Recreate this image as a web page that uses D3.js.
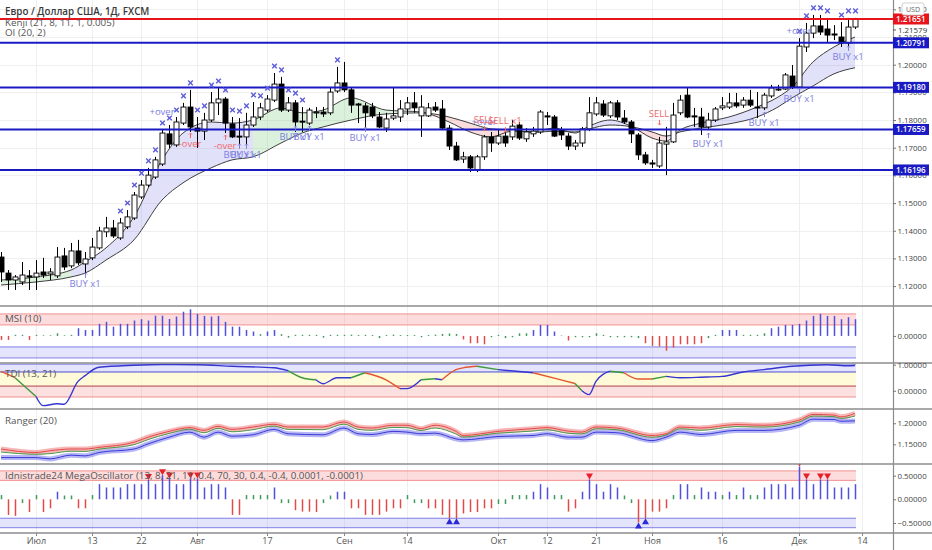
<!DOCTYPE html>
<html>
<head>
<meta charset="utf-8">
<script src="https://cdn.jsdelivr.net/npm/d3@7"></script>
<style>
  body { margin: 0; background: #fff; }
  svg { display: block; font-family: 'Open Sans', 'Noto Sans', sans-serif; }
</style>
</head>
<body>
<svg id="chart" width="932" height="550"></svg>
<script>
// EUR/USD daily candles, 24 Jun - 11 Dec 2020: [open, high, low, close]
var ohlc = [
  [1.1305,1.1323,1.1215,1.1251],[1.1247,1.1258,1.1186,1.1222],[1.1222,1.1240,1.1186,1.1233],[1.1215,1.1287,1.1204,1.1240],
  [1.1237,1.1258,1.1186,1.1233],[1.1233,1.1294,1.1186,1.1247],[1.1251,1.1302,1.1229,1.1240],[1.1244,1.1265,1.1222,1.1251],
  [1.1237,1.1341,1.1229,1.1305],[1.1309,1.1338,1.1258,1.1269],[1.1273,1.1356,1.1265,1.1327],[1.1327,1.1367,1.1276,1.1284],
  [1.1280,1.1323,1.1247,1.1298],[1.1302,1.1374,1.1294,1.1341],[1.1338,1.1414,1.1331,1.1399],[1.1396,1.1450,1.1377,1.1410],
  [1.1410,1.1439,1.1374,1.1381],[1.1374,1.1446,1.1367,1.1428],[1.1414,1.1475,1.1406,1.1450],[1.1446,1.1540,1.1439,1.1529],
  [1.1522,1.1583,1.1515,1.1565],[1.1565,1.1627,1.1558,1.1601],[1.1594,1.1667,1.1587,1.1656],[1.1641,1.1764,1.1634,1.1753],
  [1.1750,1.1782,1.1699,1.1713],[1.1710,1.1811,1.1703,1.1793],[1.1789,1.1862,1.1782,1.1847],[1.1847,1.1909,1.1757,1.1775],
  [1.1771,1.1811,1.1699,1.1760],[1.1760,1.1826,1.1728,1.1800],[1.1800,1.1901,1.1793,1.1862],[1.1862,1.1916,1.1818,1.1876],
  [1.1876,1.1883,1.1753,1.1789],[1.1786,1.1811,1.1735,1.1739],[1.1742,1.1807,1.1703,1.1739],[1.1739,1.1826,1.1710,1.1782],
  [1.1782,1.1865,1.1775,1.1811],[1.1811,1.1862,1.1800,1.1844],[1.1836,1.1890,1.1829,1.1876],[1.1872,1.1970,1.1865,1.1930],
  [1.1930,1.1956,1.1829,1.1836],[1.1836,1.1883,1.1829,1.1862],[1.1862,1.1872,1.1757,1.1793],[1.1796,1.1847,1.1757,1.1793],
  [1.1789,1.1844,1.1782,1.1836],[1.1826,1.1847,1.1807,1.1829],[1.1829,1.1847,1.1811,1.1822],[1.1826,1.1916,1.1818,1.1901],
  [1.1905,1.1992,1.1898,1.1934],[1.1934,1.2010,1.1901,1.1909],[1.1909,1.1919,1.1826,1.1854],[1.1858,1.1862,1.1789,1.1854],
  [1.1851,1.1862,1.1775,1.1826],[1.1847,1.1862,1.1807,1.1815],[1.1811,1.1829,1.1771,1.1775],[1.1771,1.1826,1.1757,1.1804],
  [1.1807,1.1916,1.1800,1.1815],[1.1811,1.1872,1.1793,1.1840],[1.1840,1.1883,1.1818,1.1862],[1.1862,1.1901,1.1826,1.1844],
  [1.1815,1.1890,1.1739,1.1847],[1.1815,1.1862,1.1811,1.1844],[1.1847,1.1865,1.1829,1.1836],[1.1840,1.1872,1.1764,1.1771],
  [1.1771,1.1782,1.1692,1.1706],[1.1706,1.1721,1.1652,1.1656],[1.1659,1.1685,1.1645,1.1667],[1.1667,1.1674,1.1612,1.1627],
  [1.1620,1.1674,1.1612,1.1667],[1.1667,1.1746,1.1656,1.1739],[1.1739,1.1757,1.1685,1.1717],[1.1717,1.1764,1.1710,1.1742],
  [1.1742,1.1757,1.1703,1.1717],[1.1739,1.1800,1.1728,1.1778],[1.1782,1.1793,1.1728,1.1735],[1.1732,1.1771,1.1721,1.1757],
  [1.1750,1.1775,1.1739,1.1760],[1.1757,1.1836,1.1750,1.1829],[1.1815,1.1829,1.1782,1.1811],[1.1811,1.1818,1.1739,1.1742],
  [1.1764,1.1775,1.1728,1.1746],[1.1742,1.1753,1.1692,1.1706],[1.1706,1.1728,1.1692,1.1717],[1.1717,1.1775,1.1703,1.1768],
  [1.1768,1.1883,1.1760,1.1826],[1.1822,1.1883,1.1815,1.1862],[1.1858,1.1872,1.1811,1.1818],[1.1815,1.1869,1.1807,1.1862],
  [1.1862,1.1872,1.1800,1.1811],[1.1807,1.1836,1.1786,1.1793],[1.1793,1.1800,1.1717,1.1750],[1.1746,1.1753,1.1656,1.1674],
  [1.1674,1.1685,1.1638,1.1645],[1.1645,1.1656,1.1627,1.1641],[1.1634,1.1739,1.1627,1.1717],[1.1713,1.1775,1.1601,1.1721],
  [1.1721,1.1862,1.1717,1.1818],[1.1826,1.1890,1.1818,1.1872],[1.1890,1.1916,1.1807,1.1811],[1.1815,1.1844,1.1775,1.1811],
  [1.1811,1.1844,1.1746,1.1775],[1.1775,1.1826,1.1768,1.1800],[1.1800,1.1847,1.1793,1.1840],[1.1844,1.1883,1.1836,1.1851],
  [1.1847,1.1898,1.1840,1.1862],[1.1862,1.1898,1.1844,1.1851],[1.1854,1.1883,1.1844,1.1872],[1.1872,1.1909,1.1847,1.1854],
  [1.1847,1.1901,1.1807,1.1844],[1.1844,1.1898,1.1836,1.1890],[1.1887,1.1927,1.1880,1.1916],[1.1909,1.1927,1.1905,1.1912],
  [1.1912,1.1970,1.1909,1.1963],[1.1959,1.1999,1.1912,1.1919],[1.1919,1.2096,1.1912,1.2067],[1.2064,1.2151,1.2046,1.2114],
  [1.2114,1.2180,1.2096,1.2140],[1.2140,1.2180,1.2107,1.2118],[1.2129,1.2169,1.2078,1.2107],[1.2111,1.2143,1.2089,1.2107],
  [1.2100,1.2154,1.2064,1.2078],[1.2078,1.2169,1.2060,1.2136],[1.2136,1.2169,1.2129,1.2165]
];

var tickDates = ['2020-07-01','2020-07-13','2020-07-22','2020-08-03','2020-08-17','2020-09-01','2020-09-14',
  '2020-10-01','2020-10-12','2020-10-21','2020-11-02','2020-11-16','2020-12-01','2020-12-14'];
var tickLabels = ['Июл','13','22','Авг','17','Сен','14','Окт','12','21','Ноя','16','Дек','14'];

var priceTicks = [1.12,1.13,1.14,1.15,1.16,1.17,1.18,1.19,1.20,1.21,1.22];
var levelsBlue = [1.20791, 1.19180, 1.17659, 1.16196];
var levelsRed = [1.21651];
var levelPlain = 1.21579;

// Kenji ribbon, read at selected candles
var kIdx  = [0,5,10,12,15,19,23,26,30,33,36,40,43,46,50,55,60,64,67,70,73,76,79,82,84,87,90,93,95,97,100,104,108,111,113,116,119,122];
var kFast = [1.1222,1.1233,1.1258,1.1287,1.1338,1.1450,1.1656,1.1753,1.1793,1.1789,1.1800,1.1844,1.1826,1.1836,1.1880,1.1836,1.1829,1.1793,1.1757,1.1739,
  1.1760,1.1758,1.1771,1.1753,1.1778,1.1800,1.1778,1.1735,1.1724,1.1764,1.1789,1.1811,1.1847,1.1883,1.1919,1.2010,1.2064,1.2100];
var kSlow = [1.1204,1.1215,1.1233,1.1247,1.1294,1.1367,1.1511,1.1573,1.1627,1.1656,1.1667,1.1717,1.1753,1.1775,1.1800,1.1822,1.1826,1.1811,1.1789,1.1768,
  1.1764,1.1755,1.1760,1.1757,1.1768,1.1782,1.1776,1.1757,1.1742,1.1757,1.1771,1.1786,1.1811,1.1847,1.1880,1.1923,1.1967,1.1989];
var kFill = ['g','g','b','b','b','b','b','b','b','b','g','g','g','g','g','g','r','r','r','r',
  'g','g','g','b','b','b','r','r','b','b','b','b','b','b','b','b','b','b'];

var xMarkIdx = [17,18,19,20,21,22,23,24,25,26,27,28,29,30,31,32,33,34,35,36,37,38,39,40,41,42,43,48,
  114,115,116,117,118,120,121,122];

var notes = [
  { t: 'BUY x1', i: 12, p: 1.1208, c: 'buy' },
  { t: '+over', i: 23, p: 1.1829, c: 'up' },
  { t: '-over', i: 27, p: 1.1713, c: 'dn' },
  { t: '-over', i: 32, p: 1.1706, c: 'dn' },
  { t: 'BUY x1', i: 34, p: 1.1674, c: 'buy' },
  { t: 'BUY x1', i: 35, p: 1.1674, c: 'buy' },
  { t: 'BUY x1', i: 42, p: 1.1739, c: 'buy' },
  { t: 'BUY x1', i: 44, p: 1.1739, c: 'buy' },
  { t: 'BUY x1', i: 52, p: 1.1735, c: 'buy' },
  { t: '+over', i: 69, p: 1.1793, c: 'up' },
  { t: 'SELL', i: 69, p: 1.1800, c: 'sell' },
  { t: 'SELL x1', i: 72, p: 1.1796, c: 'sell' },
  { t: 'SELL', i: 94, p: 1.1822, c: 'sell' },
  { t: 'BUY x1', i: 101, p: 1.1713, c: 'buy' },
  { t: 'BUY x1', i: 109, p: 1.1789, c: 'buy' },
  { t: 'BUY x1', i: 114, p: 1.1876, c: 'buy' },
  { t: '+over', i: 114, p: 1.2122, c: 'up' },
  { t: 'BUY x1', i: 121, p: 1.2028, c: 'buy' }
];

var msiVals = [
  -0.18,-0.18,0.05,0.05,-0.18,0.05,0.03,0.03,0.12,0.03,
  0.05,0.35,0.27,0.27,0.55,0.64,0.42,0.55,0.55,0.70,
  0.76,0.70,0.92,0.92,0.77,0.88,1.10,1.21,1.00,0.91,
  0.88,0.91,0.64,0.42,0.42,0.27,0.20,0.08,0.20,0.27,
  0.08,-0.08,0.05,0.05,0.05,0.05,-0.08,0.05,0.05,0.05,
  0.06,0.04,0.05,0.04,-0.10,0.04,0.06,0.04,0.04,0.04,
  -0.06,0.04,0.06,0.09,0.11,0.09,-0.16,-0.33,-0.33,-0.38,
  -0.06,0.05,-0.10,-0.06,0.12,0.12,0.27,0.50,0.50,0.20,
  0.02,-0.21,-0.06,-0.06,-0.06,0.12,0.05,-0.06,-0.06,-0.06,
  -0.06,-0.10,-0.33,-0.45,-0.48,-0.67,-0.53,-0.38,-0.38,-0.38,
  -0.33,-0.10,0.05,0.27,0.27,0.27,0.05,0.05,0.05,0.12,
  0.35,0.42,0.50,0.50,0.55,0.70,0.91,1.00,0.91,0.91,
  0.76,0.85,0.76
];
var msiBands = [1, 0.5, -0.5, -1];

var tdiIdx  = [0,2,5,6,8,9,11,12,14,19,23,28,33,39,41,43,45,46,48,50,52,55,57,58,60,62,63,65,66,68,71,76,80,82,83,84,85,87,89,91,93,95,97,100,103,106,109,113,118,121,122];
var tdiVals = [0.74,0.50,-0.22,-0.57,-0.50,-0.52,0.36,0.58,0.90,0.98,1.01,1.00,0.94,0.88,0.77,0.50,0.42,0.27,0.50,0.50,0.69,0.42,0.08,0.08,0.42,0.46,0.42,0.81,0.88,0.94,
  0.81,0.69,0.42,0.28,0.00,-0.15,0.36,0.75,0.69,0.45,0.45,0.55,0.50,0.52,0.55,0.72,0.81,0.94,1.00,0.96,0.97];
var tdiCol  = ['r','g','b','b','b','b','b','b','b','b','b','b','b','b','g','g','b','b','b','g','r','r','b','b','g','b','r','r','r','g',
  'b','r','r','g','b','b','b','g','r','r','g','b','b','b','b','b','b','b','b','b','b'];
var tdiBands = [1.02, 0.72, 0.18, -0.24];

var rngIdx   = [0,5,7,10,12,14,19,21,24,27,29,31,33,36,39,41,46,49,51,53,56,58,60,62,65,66,71,76,78,81,83,85,88,93,95,97,100,105,109,114,116,119,120,122];
var rngRed   = [1.1389,1.1307,1.1348,1.1389,1.1389,1.1428,1.1548,1.1669,1.1807,1.1896,1.1831,1.1928,1.1855,1.1911,1.1976,1.1911,1.1911,1.2031,1.1911,1.1886,
  1.1952,1.1952,1.1872,1.1952,1.1807,1.1710,1.1807,1.1872,1.1896,1.1814,1.1790,1.1911,1.1886,1.1710,1.1751,1.1911,1.1886,1.1969,1.1952,1.2072,1.2210,1.2193,1.2152,1.2234];
var rngGreen = [1.1318,1.1265,1.1280,1.1338,1.1332,1.1386,1.1492,1.1613,1.1759,1.1859,1.1774,1.1880,1.1798,1.1847,1.1934,1.1855,1.1847,1.1980,1.1855,1.1833,
  1.1901,1.1895,1.1830,1.1887,1.1745,1.1674,1.1765,1.1815,1.1845,1.1763,1.1748,1.1869,1.1847,1.1668,1.1722,1.1869,1.1833,1.1921,1.1910,1.2030,1.2170,1.2157,1.2116,1.2172];
var rngBlue  = [1.1186,1.1186,1.1155,1.1244,1.1227,1.1307,1.1389,1.1510,1.1669,1.1790,1.1669,1.1790,1.1693,1.1727,1.1855,1.1751,1.1727,1.1886,1.1751,1.1734,
  1.1807,1.1790,1.1751,1.1766,1.1630,1.1606,1.1686,1.1710,1.1751,1.1669,1.1669,1.1790,1.1775,1.1589,1.1669,1.1790,1.1734,1.1831,1.1831,1.1952,1.2097,1.2089,1.2048,1.2056];

var megaVals = [
  0.09,-0.33,-0.35,-0.08,-0.27,0.09,-0.27,-0.19,0.16,0.08,
  0.08,-0.19,-0.19,0.09,0.32,0.25,0.25,0.25,0.32,0.32,
  0.32,0.41,0.32,0.51,0.44,0.32,0.32,0.44,0.44,0.25,
  0.32,0.32,0.25,-0.33,-0.33,0.09,0.09,0.09,0.09,0.25,
  -0.08,-0.08,-0.23,-0.26,-0.26,-0.27,-0.08,0.08,0.16,0.16,
  -0.19,-0.19,-0.33,-0.33,-0.33,-0.26,-0.19,-0.19,0.09,-0.08,
  -0.08,-0.19,-0.19,-0.33,-0.40,-0.40,-0.30,-0.27,-0.27,-0.19,
  -0.19,-0.10,-0.10,0.09,0.09,0.09,0.16,0.32,0.25,0.09,
  0.09,-0.26,-0.19,0.16,0.42,0.32,0.16,0.32,0.25,0.08,
  -0.08,-0.49,-0.40,-0.26,-0.26,-0.19,0.09,0.32,0.32,0.09,
  0.25,0.16,0.16,0.09,0.16,0.09,0.25,0.09,0.09,0.25,
  0.32,0.32,0.32,0.25,0.69,0.42,0.32,0.42,0.42,0.25,
  0.25,0.25,0.32
];
var megaDown = [21,23,24,27,28,84,114,115,117,118];
var megaUp = [64,65,91,92];
var megaBands = [0.6, 0.4, -0.4, -0.6];

// ---------------------------------------------------------------
var svg = d3.select('#chart'),
  width = 932,
  axisX = 893,
  bottomY = 533,
  seps = [306, 363, 409, 464, 533],
  font = "'Open Sans', 'Noto Sans', sans-serif";

var days = d3.timeDay.range(new Date(2020, 5, 24), new Date(2020, 11, 19))
  .filter((d) => d.getDay() !== 0 && d.getDay() !== 6);
var dayKey = d3.timeFormat('%Y-%m-%d');
var dayIndex = new Map(days.map((d, i) => [dayKey(d), i]));
var tickIdx = tickDates.map((d) => dayIndex.get(d));

var x = d3.scaleLinear().domain([0, 123]).range([1, 862]),
  yMain = d3.scaleLinear().domain([1.11281, 1.22337]).range([306, 0]),
  yMsi = d3.scaleLinear().domain([-1.23, 1.36]).range([363, 306]),
  yTdi = d3.scaleLinear().domain([-0.70, 1.065]).range([409, 363]),
  yRng = d3.scaleLinear().domain([1.1034, 1.2338]).range([464, 409]),
  yMega = d3.scaleLinear().domain([-0.712, 0.746]).range([533, 464]);

var lastX = x(ohlc.length - 1);

// clip paths for each pane
var defs = svg.append('defs');
[['clipMain', 0, 306], ['clipMsi', 306, 363], ['clipTdi', 363, 409], ['clipRng', 409, 464], ['clipMega', 464, 533]]
  .forEach(function (c) {
    defs.append('clipPath').attr('id', c[0])
      .append('rect').attr('x', 0).attr('y', c[1]).attr('width', axisX).attr('height', c[2] - c[1]);
  });

// grid
var grid = svg.append('g');
grid.selectAll('line.v').data(tickIdx).join('line')
  .attr('x1', (d) => Math.round(x(d)) + 0.5).attr('x2', (d) => Math.round(x(d)) + 0.5)
  .attr('y1', 0).attr('y2', bottomY)
  .attr('stroke', '#efefef');
grid.selectAll('line.h').data(priceTicks).join('line')
  .attr('x1', 0).attr('x2', axisX)
  .attr('y1', (d) => Math.round(yMain(d)) + 0.5).attr('y2', (d) => Math.round(yMain(d)) + 0.5)
  .attr('stroke', '#efefef');

// split indicator points into runs of the same state
function runs(states) {
  var out = [], cur = null;
  states.forEach(function (s, k) {
    if (!cur || s !== cur.s) {
      if (cur) cur.k.push(k);
      cur = { s: s, k: [k] };
      out.push(cur);
    } else {
      cur.k.push(k);
    }
  });
  return out;
}

// ---------------- main pane
var gMain = svg.append('g').attr('clip-path', 'url(#clipMain)');

var ribbonFill = { g: 'rgba(110,200,110,0.25)', b: 'rgba(120,120,230,0.22)', r: 'rgba(235,120,120,0.25)' };
var ribbonArea = d3.area()
  .x((k) => x(kIdx[k]))
  .y0((k) => yMain(kSlow[k]))
  .y1((k) => yMain(kFast[k]))
  .curve(d3.curveMonotoneX);
gMain.selectAll('path.rib').data(runs(kFill)).join('path')
  .attr('d', (r) => ribbonArea(r.k))
  .attr('fill', (r) => ribbonFill[r.s]);

[kFast, kSlow].forEach(function (series) {
  gMain.append('path')
    .attr('d', d3.line().x((d, k) => x(kIdx[k])).y((d) => yMain(d)).curve(d3.curveMonotoneX)(series))
    .attr('fill', 'none').attr('stroke', '#3f3f3f').attr('stroke-width', 1);
});

var candle = gMain.selectAll('g.candle').data(ohlc).join('g');
candle.append('line')
  .attr('x1', (d, i) => Math.round(x(i)) + 0.5).attr('x2', (d, i) => Math.round(x(i)) + 0.5)
  .attr('y1', (d) => yMain(d[1])).attr('y2', (d) => yMain(d[2]))
  .attr('stroke', '#000');
candle.append('rect')
  .attr('x', (d, i) => Math.round(x(i)) - 2)
  .attr('width', 5)
  .attr('y', (d) => yMain(Math.max(d[0], d[3])))
  .attr('height', (d) => Math.max(1, Math.abs(yMain(d[0]) - yMain(d[3]))))
  .attr('fill', (d) => (d[3] >= d[0] ? '#fff' : '#000'))
  .attr('stroke', '#000').attr('stroke-width', 0.9);

// horizontal levels
gMain.selectAll('line.lvb').data(levelsBlue).join('line')
  .attr('x1', 0).attr('x2', axisX)
  .attr('y1', (d) => yMain(d)).attr('y2', (d) => yMain(d))
  .attr('stroke', '#1a1ac4').attr('stroke-width', 2);
gMain.selectAll('line.lvr').data(levelsRed).join('line')
  .attr('x1', 0).attr('x2', axisX)
  .attr('y1', (d) => yMain(d)).attr('y2', (d) => yMain(d))
  .attr('stroke', '#e8141c').attr('stroke-width', 2);

// x marks over highs
gMain.selectAll('path.xm').data(xMarkIdx).join('path')
  .attr('transform', (i) => 'translate(' + (Math.round(x(i)) + 0.5) + ',' + (yMain(ohlc[i][1]) - 7) + ')')
  .attr('d', 'M-2.3,-2.3L2.3,2.3M-2.3,2.3L2.3,-2.3')
  .attr('stroke', '#5c5cdc').attr('stroke-width', 1.4);

// signal notes
var noteColor = { buy: '#7e7ee0', up: '#7e7ee0', dn: '#f06a6a', sell: '#f06a6a' };
var noteG = gMain.selectAll('g.note').data(notes).join('g')
  .attr('transform', (d) => 'translate(' + x(d.i) + ',' + yMain(d.p) + ')');
noteG.append('text')
  .attr('text-anchor', 'middle').attr('dy', '0.35em')
  .attr('font-size', 9.5).attr('fill', (d) => noteColor[d.c])
  .text((d) => d.t);
noteG.filter((d) => d.c === 'buy' || d.c === 'dn').append('path')
  .attr('d', 'M0.5,-11V-6M-1,-9.5L0.5,-11L2,-9.5')
  .attr('fill', 'none').attr('stroke', (d) => noteColor[d.c]);
noteG.filter((d) => d.c === 'sell').append('path')
  .attr('d', 'M0.5,6V11M-1,9.5L0.5,11L2,9.5')
  .attr('fill', 'none').attr('stroke', (d) => noteColor[d.c]);

// ---------------- sub-pane helpers
function bands(g, scale, lv, fills, strokes) {
  g.append('rect').attr('x', 0).attr('width', lastX + 1)
    .attr('y', scale(lv[0])).attr('height', scale(lv[1]) - scale(lv[0])).attr('fill', fills[0]);
  g.append('rect').attr('x', 0).attr('width', lastX + 1)
    .attr('y', scale(lv[2])).attr('height', scale(lv[3]) - scale(lv[2])).attr('fill', fills[1]);
  g.selectAll('line.band').data(lv).join('line')
    .attr('x1', 0).attr('x2', lastX + 1)
    .attr('y1', (d) => scale(d)).attr('y2', (d) => scale(d))
    .attr('stroke', (d, k) => strokes[k]).attr('stroke-width', 1);
}
function barColor(v) {
  return v > 0.13 ? '#4f4fe0' : v < -0.13 ? '#e54848' : '#3f9b5a';
}

// MSI
var gMsi = svg.append('g').attr('clip-path', 'url(#clipMsi)');
bands(gMsi, yMsi, msiBands, ['rgba(245,140,140,0.3)', 'rgba(120,120,240,0.2)'], ['#f29090', '#f29090', '#8080e6', '#8080e6']);
gMsi.selectAll('line.bar').data(msiVals).join('line')
  .attr('x1', (d, i) => Math.round(x(i)) + 0.5).attr('x2', (d, i) => Math.round(x(i)) + 0.5)
  .attr('y1', yMsi(0)).attr('y2', (d) => yMsi(d))
  .attr('stroke', barColor).attr('stroke-width', 1.5);

// TDI
var gTdi = svg.append('g').attr('clip-path', 'url(#clipTdi)');
gTdi.append('rect').attr('x', 0).attr('width', lastX + 1)
  .attr('y', yTdi(tdiBands[0])).attr('height', yTdi(tdiBands[1]) - yTdi(tdiBands[0])).attr('fill', 'rgba(120,120,240,0.2)');
gTdi.append('rect').attr('x', 0).attr('width', lastX + 1)
  .attr('y', yTdi(tdiBands[1])).attr('height', yTdi(tdiBands[2]) - yTdi(tdiBands[1])).attr('fill', 'rgba(255,248,190,0.6)');
gTdi.append('rect').attr('x', 0).attr('width', lastX + 1)
  .attr('y', yTdi(tdiBands[2])).attr('height', yTdi(tdiBands[3]) - yTdi(tdiBands[2])).attr('fill', 'rgba(245,150,150,0.3)');
gTdi.selectAll('line.band').data(tdiBands).join('line')
  .attr('x1', 0).attr('x2', lastX + 1)
  .attr('y1', (d) => yTdi(d)).attr('y2', (d) => yTdi(d))
  .attr('stroke', (d, k) => ['#8080e6', '#4c4cd0', '#b04050', '#f29090'][k]);
var tdiColor = { b: '#3535d0', g: '#3c9a3c', r: '#e4572e' };
var tdiLine = d3.line().x((k) => x(tdiIdx[k])).y((k) => yTdi(tdiVals[k])).curve(d3.curveMonotoneX);
gTdi.selectAll('path.tdi').data(runs(tdiCol)).join('path')
  .attr('d', (r) => tdiLine(r.k))
  .attr('fill', 'none').attr('stroke', (r) => tdiColor[r.s]).attr('stroke-width', 1.4);

// Ranger
var gRng = svg.append('g').attr('clip-path', 'url(#clipRng)');
function rngPath(series) {
  return d3.line().x((d, k) => x(rngIdx[k])).y((d) => yRng(d)).curve(d3.curveMonotoneX)(series);
}
gRng.append('path').attr('d', rngPath(rngRed)).attr('fill', 'none')
  .attr('stroke', 'rgba(240,110,110,0.5)').attr('stroke-width', 5);
gRng.append('path').attr('d', rngPath(rngBlue)).attr('fill', 'none')
  .attr('stroke', 'rgba(110,110,235,0.5)').attr('stroke-width', 5);
gRng.append('path').attr('d', rngPath(rngRed)).attr('fill', 'none').attr('stroke', '#e24a4a').attr('stroke-width', 1);
gRng.append('path').attr('d', rngPath(rngGreen)).attr('fill', 'none').attr('stroke', '#4a9a4a').attr('stroke-width', 1);
gRng.append('path').attr('d', rngPath(rngBlue)).attr('fill', 'none').attr('stroke', '#3a3ad8').attr('stroke-width', 1);

// MegaOscillator
var gMega = svg.append('g').attr('clip-path', 'url(#clipMega)');
bands(gMega, yMega, megaBands, ['rgba(245,140,140,0.3)', 'rgba(120,120,240,0.2)'], ['#f29090', '#f29090', '#8080e6', '#8080e6']);
gMega.selectAll('line.bar').data(megaVals).join('line')
  .attr('x1', (d, i) => Math.round(x(i)) + 0.5).attr('x2', (d, i) => Math.round(x(i)) + 0.5)
  .attr('y1', yMega(0)).attr('y2', (d) => yMega(d))
  .attr('stroke', barColor).attr('stroke-width', 1.5);
gMega.selectAll('path.dn').data(megaDown).join('path')
  .attr('transform', (i) => 'translate(' + (Math.round(x(i)) + 0.5) + ',' + yMega(megaVals[i]) + ')')
  .attr('d', 'M-3.5,-6L3.5,-6L0,0Z').attr('fill', '#e8202a');
gMega.selectAll('path.up').data(megaUp).join('path')
  .attr('transform', (i) => 'translate(' + (Math.round(x(i)) + 0.5) + ',' + yMega(megaVals[i]) + ')')
  .attr('d', 'M-3.5,6L3.5,6L0,0Z').attr('fill', '#2a2ad8');

// ---------------- frame: separators and right scale
svg.selectAll('line.sep').data(seps).join('line')
  .attr('x1', 0).attr('x2', width)
  .attr('y1', (d) => d).attr('y2', (d) => d)
  .attr('stroke', '#8c8c8c').attr('stroke-width', 1.5);
svg.append('line').attr('x1', axisX + 0.5).attr('x2', axisX + 0.5).attr('y1', 0).attr('y2', 550)
  .attr('stroke', '#8c8c8c').attr('stroke-width', 1.2);

function rightAxis(scale, ticks) {
  var g = svg.append('g').attr('transform', 'translate(' + axisX + ',0)');
  d3.axisRight(scale).tickValues(ticks).tickSize(3).tickPadding(1.5).tickFormat(d3.format('.5f'))(g);
  g.select('.domain').remove();
  g.selectAll('line').attr('stroke', '#777');
  g.selectAll('text').attr('fill', '#444').attr('font-size', 7.9).attr('font-family', font);
  return g;
}
rightAxis(yMain, priceTicks);
rightAxis(yMsi, [0]);
rightAxis(yTdi, [1, 0]);
rightAxis(yRng, [1.2, 1.15]);
rightAxis(yMega, [0.5, 0, -0.5]);

// price labels on the scale
var tags = svg.append('g');
function tag(v, color) {
  var g = tags.append('g').attr('transform', 'translate(' + axisX + ',' + yMain(v) + ')');
  g.append('rect').attr('x', 0).attr('y', -5.5).attr('width', 36).attr('height', 11).attr('fill', color);
  g.append('text').attr('x', 3).attr('y', 3).attr('fill', '#fff')
    .attr('font-size', 8).attr('font-weight', 600).attr('font-family', font)
    .text(d3.format('.5f')(v));
}
levelsBlue.forEach((v) => tag(v, '#1a1ac4'));
levelsRed.forEach((v) => tag(v, '#e8141c'));
var plain = tags.append('g').attr('transform', 'translate(' + axisX + ',' + (yMain(levelPlain) + 9) + ')');
plain.append('line').attr('x1', 0).attr('x2', 3).attr('stroke', '#555');
plain.append('text').attr('x', 5).attr('y', 3).attr('fill', '#333').attr('font-size', 7.9).attr('font-family', font)
  .text(d3.format('.5f')(levelPlain));

// currency box
var usd = svg.append('g').attr('transform', 'translate(902,3)');
usd.append('rect').attr('width', 22).attr('height', 12).attr('rx', 2)
  .attr('fill', '#fff').attr('stroke', '#cfcfcf');
usd.append('text').attr('x', 11).attr('y', 9).attr('text-anchor', 'middle')
  .attr('font-size', 7).attr('fill', '#666').attr('font-family', font).text('USD');

// bottom time axis
var gx = svg.append('g').attr('transform', 'translate(0,' + bottomY + ')');
d3.axisBottom(x).tickValues(tickIdx).tickFormat((d, k) => tickLabels[k]).tickSize(3).tickPadding(2)(gx);
gx.select('.domain').remove();
gx.selectAll('line').attr('stroke', '#888');
gx.selectAll('text').attr('fill', '#555').attr('font-size', 9).attr('font-family', font);

// legends
var legend = [
  { t: 'Евро / Доллар США, 1Д, FXCM', y: 14.5, w: 600, c: '#3a3a3a' },
  { t: 'Kenji (21, 8, 11, 1, 0.005)', y: 25.5, w: 400, c: '#555' },
  { t: 'OI (20, 2)', y: 36, w: 400, c: '#555' },
  { t: 'MSI (10)', y: 322, w: 400, c: '#555' },
  { t: 'TDI (13, 21)', y: 376.5, w: 400, c: '#555' },
  { t: 'Ranger (20)', y: 424, w: 400, c: '#555' },
  { t: 'Idnistrade24 MegaOscillator (13, 8, 21, 11, 0.4, 70, 30, 0.4, -0.4, 0.0001, -0.0001)', y: 479, w: 400, c: '#555' }
];
svg.selectAll('text.legend').data(legend).join('text')
  .attr('x', 5).attr('y', (d) => d.y)
  .attr('font-size', 9.8).attr('font-weight', (d) => d.w).attr('fill', (d) => d.c)
  .attr('font-family', font)
  .text((d) => d.t);
</script>
</body>
</html>
